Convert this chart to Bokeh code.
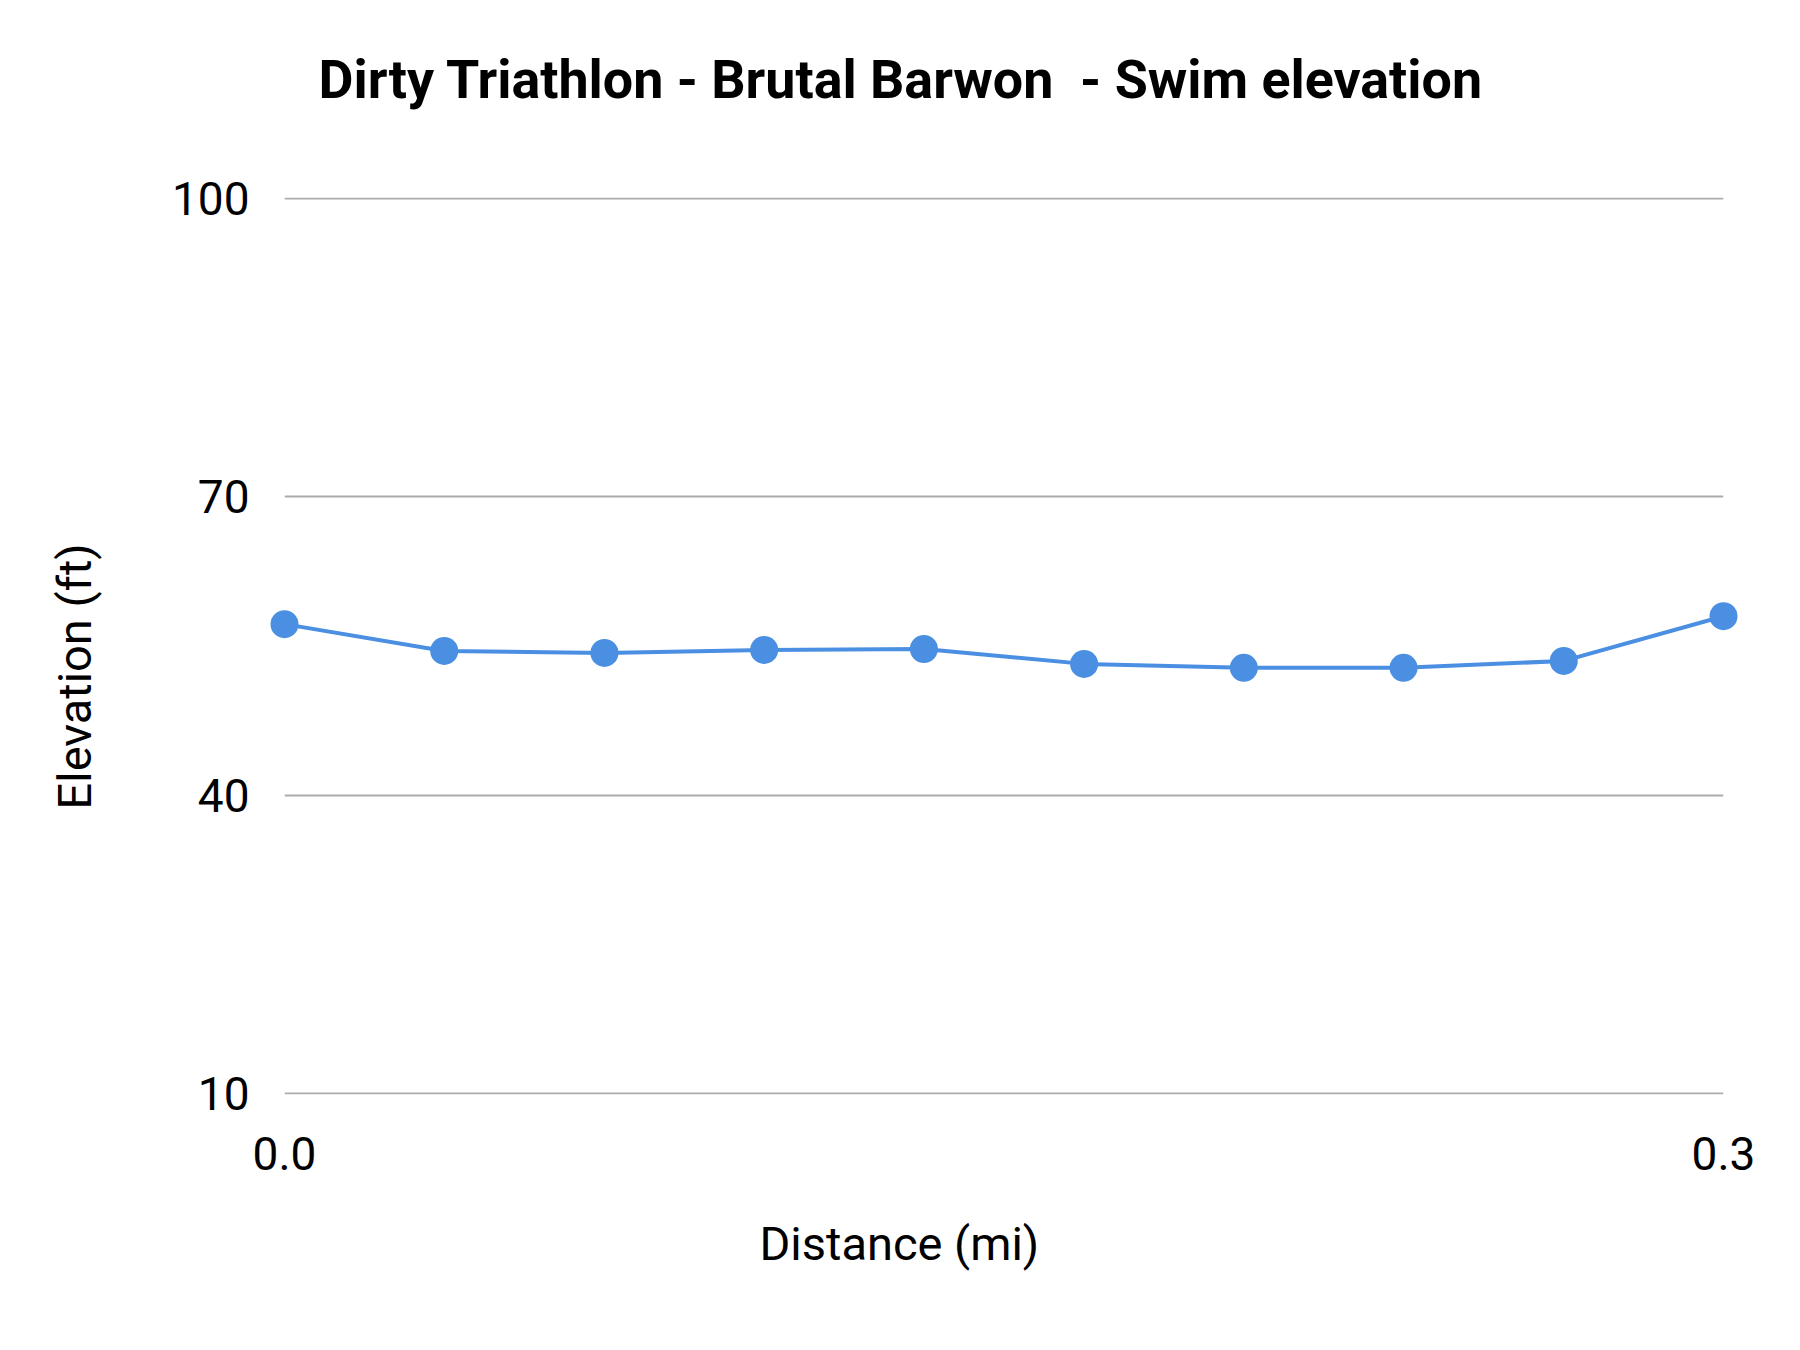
from bokeh.plotting import figure
from bokeh.models import FixedTicker, NumeralTickFormatter, Title, Range1d
from bokeh.embed import file_html
from bokeh.resources import INLINE

# Data
distance_mi = [0.0, 0.0333, 0.0667, 0.1, 0.1333, 0.1667, 0.2, 0.2333, 0.2667, 0.3]
elevation_ft = [57.2, 54.5, 54.3, 54.6, 54.7, 53.2, 52.8, 52.8, 53.5, 58.0]
y_ticks = [10, 40, 70, 100]
x_ticks = [0.0, 0.3]

title_text = "Dirty Triathlon - Brutal Barwon\u00a0 - Swim elevation"
x_title = "Distance (mi)"
y_title = "Elevation (ft)"

FONT = "Roboto"
BLUE = "#4a8fe1"
GRID = "#ababab"
W, H = 1784, 1334

p = figure(width=W, height=H, output_backend="svg", toolbar_location=None,
           x_range=Range1d(0.0, 0.3), y_range=Range1d(9.85, 100.15),
           min_border_left=284, min_border_right=61, min_border_top=197,
           min_border_bottom=240)
p.outline_line_color = None
p.background_fill_color = "white"
p.border_fill_color = "white"

# blank spacers that push the titles outward
p.add_layout(Title(text="\u00a0", standoff=84, text_font_size="1px",
                   text_color="white"), "above")
p.add_layout(Title(text="\u00a0", standoff=64, text_font_size="1px",
                   text_color="white"), "left")

p.title = Title(text=title_text, align="left", offset=34, standoff=0,
                text_font=FONT, text_font_style="bold",
                text_font_size="53.8px", text_color="#000000")

p.add_layout(Title(text=x_title, align="left", offset=475, standoff=82,
                   text_font=FONT, text_font_style="normal",
                   text_font_size="47px", text_color="#000000"), "below")
p.add_layout(Title(text=y_title, align="left", offset=285, standoff=0,
                   text_font=FONT, text_font_style="normal",
                   text_font_size="47px", text_color="#000000"), "left")

# axes
for ax in (p.xaxis[0], p.yaxis[0]):
    ax.axis_line_color = None
    ax.major_tick_line_color = None
    ax.minor_tick_line_color = None
    ax.major_tick_out = 0
    ax.major_tick_in = 0
    ax.major_label_text_font = FONT
    ax.major_label_text_font_size = "46px"
    ax.major_label_text_color = "#000000"

p.xaxis.ticker = FixedTicker(ticks=x_ticks)
p.xaxis.formatter = NumeralTickFormatter(format="0.0")
p.xaxis.major_label_standoff = 42
p.yaxis.ticker = FixedTicker(ticks=y_ticks)
p.yaxis.major_label_standoff = 35

p.xgrid.grid_line_color = None
p.ygrid.grid_line_color = GRID
p.ygrid.grid_line_width = 2

p.line(distance_mi, elevation_ft, line_color=BLUE, line_width=4)
p.scatter(distance_mi, elevation_ft, marker="circle", size=28, fill_color=BLUE,
          line_color=None, level="overlay")

open("out.html", "w").write(file_html(p, INLINE))
